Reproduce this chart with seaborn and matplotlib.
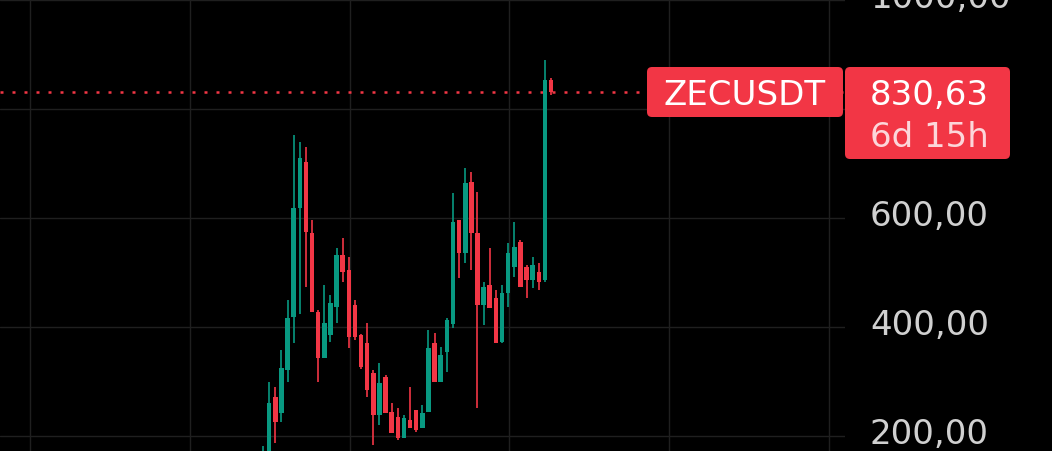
import matplotlib
matplotlib.use("Agg")
import matplotlib.pyplot as plt
from matplotlib.patches import FancyBboxPatch
from matplotlib.transforms import ScaledTranslation
import seaborn as sns
import numpy as np

# weekly ZECUSDT candles
symbol = "ZECUSDT"
last_price = 830.63
countdown = "6d 15h"

opens = [150, 165, 272, 242, 321, 418, 618, 703, 572, 428, 343, 385, 437, 532, 505, 441,
         385, 371, 316, 239, 308, 244, 235, 196, 229, 248, 215, 244, 371, 299, 354, 405,
         596, 536, 666, 572, 440, 477, 453, 373, 462, 510, 556, 510, 486, 501, 486, 853]
highs = [181, 299, 290, 358, 450, 752, 740, 730, 596, 431, 477, 459, 545, 563, 528, 450,
         388, 407, 321, 334, 312, 261, 251, 239, 290, 248, 257, 394, 389, 363, 417, 646,
         596, 692, 684, 648, 483, 545, 468, 477, 554, 593, 560, 514, 528, 517, 890, 857]
lows = [140, 150, 187, 226, 299, 371, 424, 473, 428, 299, 343, 372, 407, 483, 362, 376,
        323, 272, 183, 220, 242, 206, 193, 196, 215, 207, 215, 244, 299, 299, 317, 398,
        490, 517, 505, 251, 404, 435, 371, 371, 437, 492, 473, 453, 472, 468, 483, 826]
closes = [170, 260, 226, 325, 417, 618, 710, 574, 428, 343, 407, 444, 532, 501, 382, 382,
          327, 284, 239, 297, 242, 206, 196, 233, 215, 211, 242, 361, 299, 349, 413, 593,
          536, 664, 572, 440, 473, 435, 371, 462, 536, 547, 473, 486, 514, 483, 853, 830.63]

price_ticks = [200, 400, 600, 800, 1000]
hidden_ticks = [800]  # sits behind the last-price tag
time_grid = [-38.0, -11.9, 14.2, 40.2, 66.2, 92.3]

up_color = "#089981"
down_color = "#f23645"
grid_color = "#1f1f1f"

W, H, DPI = 1052, 451, 100

sns.set_theme(style="dark", rc={"axes.facecolor": "black", "figure.facecolor": "black"})
plt.rcParams["font.family"] = ["DejaVu Sans"]

fig = plt.figure(figsize=(W / DPI, H / DPI), dpi=DPI, facecolor="black")
ax = fig.add_axes([0, 0, 845 / W, 1])
ax.set_facecolor("black")

o = np.array(opens, dtype=float)
c = np.array(closes, dtype=float)
x = np.arange(len(o))
colors = [up_color if cc >= oo else down_color for oo, cc in zip(o, c)]

ax.vlines(x, lows, highs, colors=colors, linewidth=1.2, zorder=3)
body_bottom = np.minimum(o, c)
body_h = np.maximum(np.abs(c - o), 2.0)
ax.bar(x, body_h, bottom=body_bottom, width=0.74, color=colors, linewidth=0, zorder=4)

# last price dotted line
ax.axhline(last_price, color=down_color, linewidth=1.8, linestyle=(0, (1.2, 3.6)),
           dash_capstyle="butt", zorder=2)

ax.set_xlim(-42.92, 94.97)
ax.set_ylim(172.5, 1000)

ax.set_xticks(time_grid)
ax.tick_params(axis="x", labelbottom=False, length=0)
ax.yaxis.tick_right()
labels = ["" if v in hidden_ticks else f"{v:.2f}".replace(".", ",") for v in price_ticks]
ax.set_yticks(price_ticks, labels=labels)
ax.tick_params(axis="y", length=0, pad=18, labelsize=24.5, labelcolor="#d0d0d0")
shift = ScaledTranslation(0, 5 / DPI, fig.dpi_scale_trans)
for lab in ax.get_yticklabels():
    lab.set_transform(lab.get_transform() + shift)
ax.grid(True, color=grid_color, linewidth=1.0)
for s in ax.spines.values():
    s.set_visible(False)


def px_box(x0, y0, x1, y1):
    patch = FancyBboxPatch((x0 / DPI, (H - y1) / DPI), (x1 - x0) / DPI, (y1 - y0) / DPI,
                           boxstyle="round,pad=0,rounding_size=0.05",
                           transform=fig.dpi_scale_trans, facecolor=down_color,
                           edgecolor="none", zorder=5)
    fig.add_artist(patch)


def px_text(xp, yp, s, color, ha="left"):
    fig.text(xp / DPI, (H - yp) / DPI, s, transform=fig.dpi_scale_trans, ha=ha,
             va="baseline", color=color, fontsize=24.5, zorder=6)


px_box(647, 67, 843, 117)
px_box(845, 67, 1010, 159)
px_text(745, 105, symbol, "white", ha="center")
px_text(870, 105, f"{last_price:.2f}".replace(".", ","), "white")
px_text(870, 147, countdown, "#fcd6da")

fig.savefig("out.png", dpi=DPI, facecolor="black")
